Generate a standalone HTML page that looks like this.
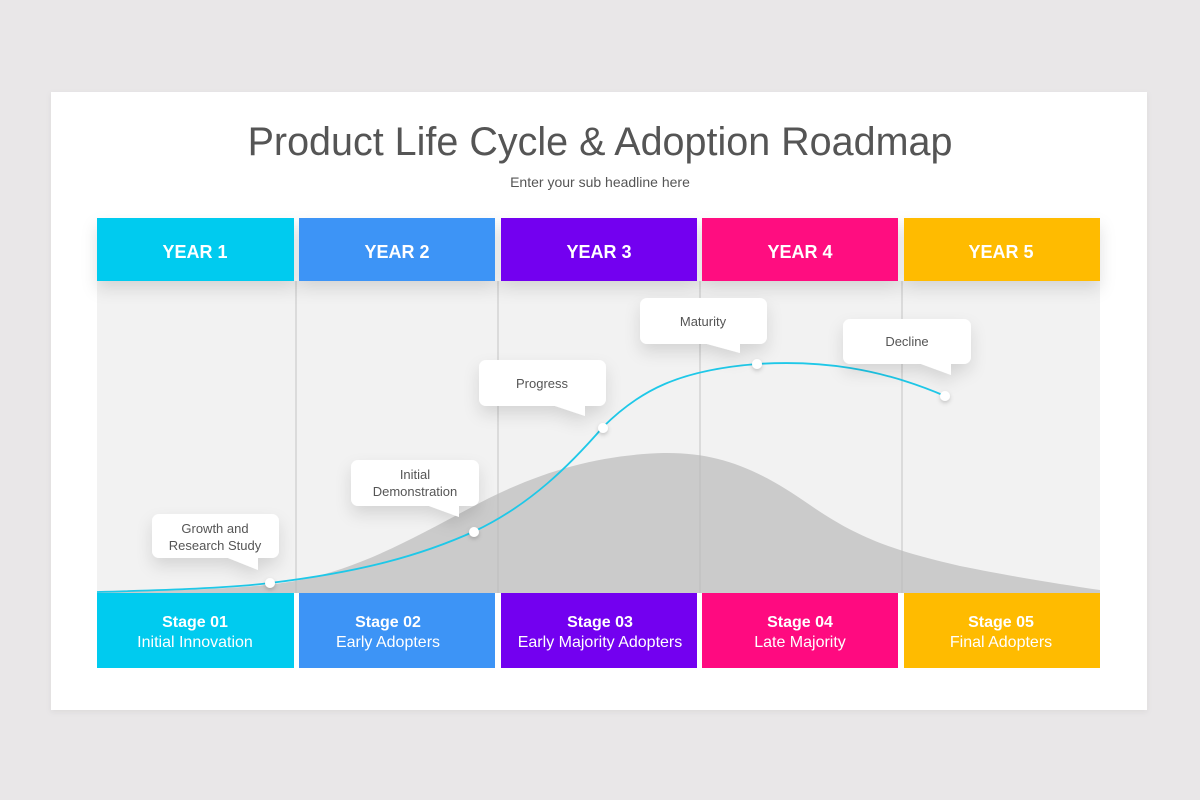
<!DOCTYPE html>
<html><head><meta charset="utf-8"><style>
html,body{margin:0;padding:0;background:#e9e7e8;width:1200px;height:800px;overflow:hidden;font-family:"Liberation Sans",sans-serif}
</style></head><body>
<svg width="1200" height="800" xmlns="http://www.w3.org/2000/svg" font-family="Liberation Sans, sans-serif">
<defs>
<filter id="sh" x="-20%" y="-20%" width="140%" height="160%"><feDropShadow dx="0" dy="8" stdDeviation="8" flood-color="#000" flood-opacity="0.12"/></filter>
<filter id="cs" x="-10%" y="-10%" width="120%" height="130%"><feDropShadow dx="0" dy="2" stdDeviation="3" flood-color="#000" flood-opacity="0.06"/></filter>
<filter id="ds" x="-100%" y="-100%" width="300%" height="300%"><feDropShadow dx="0" dy="2" stdDeviation="2" flood-color="#000" flood-opacity="0.2"/></filter>
</defs>
<rect x="51" y="92" width="1096" height="618" fill="#fff" filter="url(#cs)"/>
<text x="600" y="155" text-anchor="middle" font-size="39.5" fill="#555">Product Life Cycle &amp; Adoption Roadmap</text>
<text x="600" y="187" text-anchor="middle" font-size="14" fill="#555">Enter your sub headline here</text>
<rect x="97" y="281" width="1003" height="312" fill="#f2f2f2"/>
<path d="M97,592 C200,590 260,588 300,580 C360,568 410,540 470,508 C540,470 600,455 663,453 C720,452 760,470 810,505 C860,540 900,552 960,566 C1020,578 1060,584 1100,590 L1100,593 L97,593 Z" fill="#cbcbcb"/>
<g stroke="#bcbcbc" stroke-width="1.2" opacity="0.7">
<line x1="296" y1="281" x2="296" y2="593"/><line x1="498" y1="281" x2="498" y2="593"/><line x1="700" y1="281" x2="700" y2="593"/><line x1="902" y1="281" x2="902" y2="593"/>
</g>
<g filter="url(#sh)">
<rect x="97" y="218" width="197" height="63" fill="#00cbef"/>
<rect x="299" y="218" width="196" height="63" fill="#3d94f6"/>
<rect x="501" y="218" width="196" height="63" fill="#7300f0"/>
<rect x="702" y="218" width="196" height="63" fill="#ff0a80"/>
<rect x="904" y="218" width="196" height="63" fill="#ffbb00"/>
</g>
<g fill="#fff" font-weight="bold" font-size="18" text-anchor="middle">
<text x="195" y="258">YEAR 1</text><text x="397" y="258">YEAR 2</text><text x="599" y="258">YEAR 3</text><text x="800" y="258">YEAR 4</text><text x="1001" y="258">YEAR 5</text>
</g>
<path d="M97,592 C170,590 230,588 270,583 C360,572 420,556 475,531 C530,505 570,465 603,427 C640,390 680,370 757,364 C820,360 880,368 945,396" fill="none" stroke="#1ec8e8" stroke-width="1.8"/>
<g fill="#fff" filter="url(#sh)">
<path d="M159,514 h113 a7,7 0 0 1 7,7 v30 a7,7 0 0 1 -7,7 h-14 v12 l-30,-12 h-69 a7,7 0 0 1 -7,-7 v-30 a7,7 0 0 1 7,-7z"/>
<path d="M358,460 h114 a7,7 0 0 1 7,7 v32 a7,7 0 0 1 -7,7 h-13 v11 l-30,-11 h-71 a7,7 0 0 1 -7,-7 v-32 a7,7 0 0 1 7,-7z"/>
<path d="M486,360 h113 a7,7 0 0 1 7,7 v32 a7,7 0 0 1 -7,7 h-14 v10 l-30,-10 h-69 a7,7 0 0 1 -7,-7 v-32 a7,7 0 0 1 7,-7z"/>
<path d="M647,298 h113 a7,7 0 0 1 7,7 v32 a7,7 0 0 1 -7,7 h-20 v9 l-33,-9 h-60 a7,7 0 0 1 -7,-7 v-32 a7,7 0 0 1 7,-7z"/>
<path d="M850,319 h114 a7,7 0 0 1 7,7 v31 a7,7 0 0 1 -7,7 h-13 v11 l-30,-11 h-71 a7,7 0 0 1 -7,-7 v-31 a7,7 0 0 1 7,-7z"/>
</g>
<g fill="#555" font-size="13" text-anchor="middle">
<text x="215" y="533">Growth and</text><text x="215" y="550">Research Study</text>
<text x="415" y="479">Initial</text><text x="415" y="496">Demonstration</text>
<text x="542" y="388">Progress</text>
<text x="703" y="326">Maturity</text>
<text x="907" y="346">Decline</text>
</g>
<g fill="#fff" filter="url(#ds)">
<circle cx="270" cy="583" r="5"/><circle cx="474" cy="532" r="5"/><circle cx="603" cy="428" r="5"/><circle cx="757" cy="364" r="5"/><circle cx="945" cy="396" r="5"/>
</g>
<rect x="97" y="593" width="197" height="75" fill="#00cbef"/>
<rect x="299" y="593" width="196" height="75" fill="#3d94f6"/>
<rect x="501" y="593" width="196" height="75" fill="#7300f0"/>
<rect x="702" y="593" width="196" height="75" fill="#ff0a80"/>
<rect x="904" y="593" width="196" height="75" fill="#ffbb00"/>
<g fill="#fff" text-anchor="middle">
<g font-weight="bold" font-size="16">
<text x="195" y="627">Stage 01</text><text x="388" y="627">Stage 02</text><text x="600" y="627">Stage 03</text><text x="800" y="627">Stage 04</text><text x="1001" y="627">Stage 05</text>
</g>
<g font-size="16">
<text x="195" y="647">Initial Innovation</text><text x="388" y="647">Early Adopters</text><text x="600" y="647">Early Majority Adopters</text><text x="800" y="647">Late Majority</text><text x="1001" y="647">Final Adopters</text>
</g>
</g>
</svg>
</body></html>
